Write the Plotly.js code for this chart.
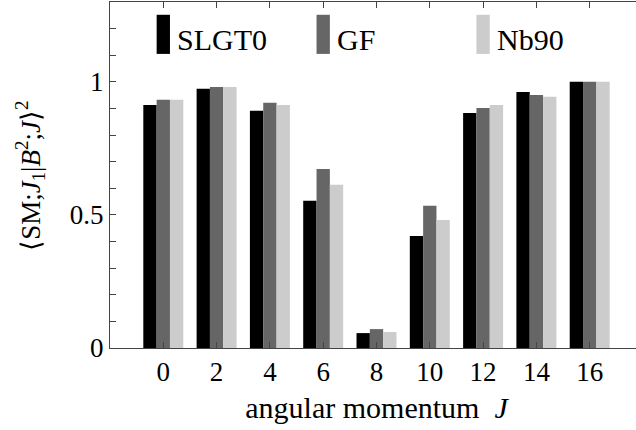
<!DOCTYPE html>
<html>
<head>
<meta charset="utf-8">
<script src="https://cdn.plot.ly/plotly-3.0.1.min.js"></script>
<style>html,body{margin:0;padding:0;background:#fff;overflow:hidden;width:636px;height:430px;}#chart{width:643px;height:430px;}</style>
</head>
<body>
<div id="chart"></div>
<script>
const J = [0, 2, 4, 6, 8, 10, 12, 14, 16];
const seriesNames = ["SLGT0", "GF", "Nb90"];
const slgt0 = [0.913, 0.974, 0.891, 0.553, 0.056, 0.421, 0.883, 0.962, 1.0];
const gf    = [0.933, 0.981, 0.921, 0.673, 0.071, 0.534, 0.902, 0.951, 1.0];
const nb90  = [0.933, 0.981, 0.913, 0.613, 0.060, 0.481, 0.913, 0.944, 1.0];
const colors = ["#000000", "#666666", "#cccccc"];
const legendX = [0, 6, 12];
const yTicks = [0, 0.5, 1];
const yTickText = ["0", "0.5", "1"];
const xTitle = "angular momentum  <i>J</i>";
const yTitle = "\u27E8SM;<i>J</i><sub>1</sub>|<i>B</i><sup>2</sup>;<i>J</i>\u27E9<sup>2</sup>";

const FONT = "Liberation Serif";
const values = [slgt0, gf, nb90];

const traces = values.map((v, i) => ({
  type: "bar", x: J, y: v, name: seriesNames[i],
  marker: {color: colors[i], line: {width: 0}},
  showlegend: false, hoverinfo: "skip"
}));

const shapes = legendX.map((lx, i) => ({
  type: "rect", xref: "x", yref: "y",
  x0: lx - 0.25, x1: lx + 0.25, y0: 1.105, y1: 1.252,
  fillcolor: colors[i], line: {width: 0}
}));
const annotations = legendX.map((lx, i) => ({
  xref: "x", yref: "y", x: lx + 0.45, y: 1.088,
  xanchor: "left", yanchor: "bottom", showarrow: false,
  text: seriesNames[i], font: {family: FONT, size: 30, color: "#000"}
}));
annotations.push({
  xref: "paper", yref: "y", x: -0.150, y: 0.647,
  xanchor: "center", yanchor: "middle", textangle: -90, showarrow: false,
  text: yTitle, font: {family: FONT, size: 27, color: "#000"}
});

const layout = {
  width: 643, height: 430,
  margin: {l: 110, r: 0, t: 2, b: 82},
  paper_bgcolor: "#fff", plot_bgcolor: "#fff",
  barmode: "group", bargap: 0.25, bargroupgap: 0,
  font: {family: FONT, size: 27, color: "#000"},
  xaxis: {
    range: [-2, 18], tickmode: "array", tickvals: J, ticktext: J.map(String),
    ticks: "inside", ticklen: 6, tickcolor: "#444", tickwidth: 1,
    showline: true, linecolor: "#444", linewidth: 1, mirror: "ticks",
    showgrid: false, zeroline: false,
    tickfont: {family: FONT, size: 27},
    title: {text: xTitle, font: {family: FONT, size: 30}, standoff: 10}
  },
  yaxis: {
    range: [0, 1.3], tickmode: "array", tickvals: yTicks, ticktext: yTickText,
    ticks: "inside", ticklen: 6, tickcolor: "#444", tickwidth: 1,
    minor: {dtick: 0.1, tick0: 0, ticks: "inside", ticklen: 6, tickcolor: "#444", tickwidth: 1, showgrid: false},
    showline: true, linecolor: "#444", linewidth: 1, mirror: false,
    showgrid: false, zeroline: false,
    tickfont: {family: FONT, size: 27}
  },
  shapes: shapes,
  annotations: annotations
};

Plotly.newPlot("chart", traces, layout, {displayModeBar: false, staticPlot: true});
</script>
</body>
</html>
